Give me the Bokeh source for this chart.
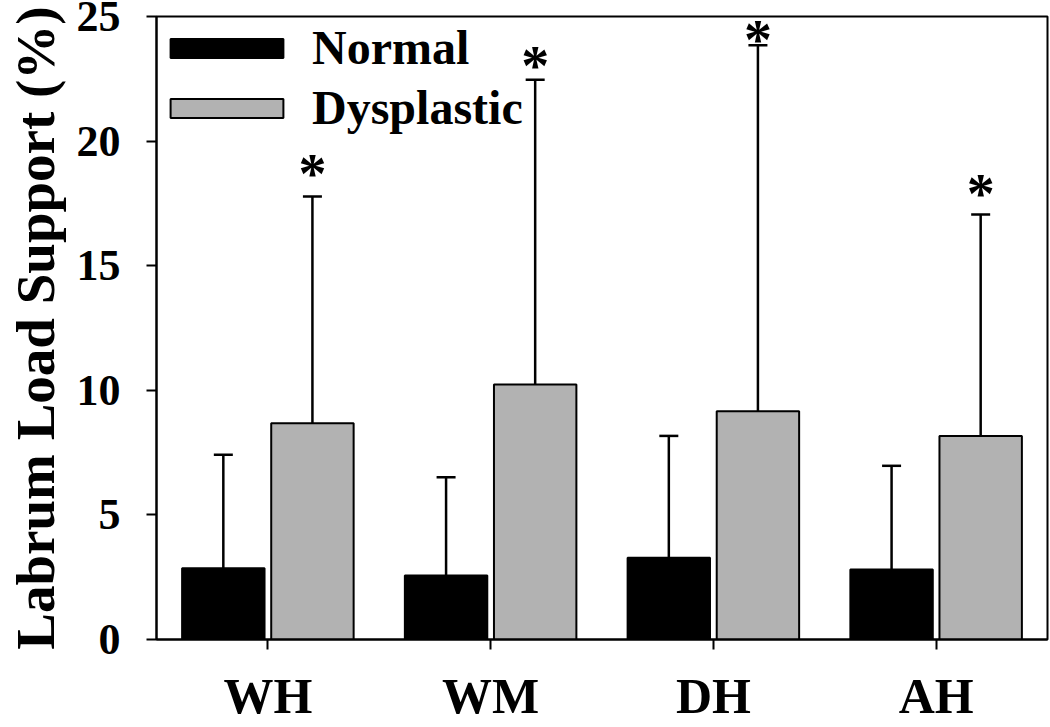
from bokeh.plotting import figure
from bokeh.models import ColumnDataSource, FactorRange, Range1d, Whisker, TeeHead, Legend, LegendItem, FixedTicker
from bokeh.transform import dodge
from bokeh.core.properties import value
from bokeh.embed import file_html
from bokeh.resources import INLINE

categories = ["WH", "WM", "DH", "AH"]
normal_mean = [2.86, 2.57, 3.28, 2.81]
normal_sd = [4.55, 3.94, 4.89, 4.16]
dysplastic_mean = [8.68, 10.23, 9.16, 8.17]
dysplastic_sd = [9.10, 12.23, 14.69, 8.88]
# significance markers (*) above the dysplastic bars, at the heights
significance_y = [18.58, 22.95, 23.96, 17.78]
y_ticks = [0, 5, 10, 15, 20, 25]

FONT = "Liberation Serif"
GRAY = "#b2b2b2"

src = ColumnDataSource(dict(
    cat=categories,
    n=normal_mean,
    n_top=[m + s for m, s in zip(normal_mean, normal_sd)],
    d=dysplastic_mean,
    d_top=[m + s for m, s in zip(dysplastic_mean, dysplastic_sd)],
    star=significance_y,
))

p = figure(x_range=FactorRange(*categories, range_padding=0), y_range=Range1d(0, 25),
           width=1050, height=727, output_backend="svg", toolbar_location=None,
           min_border_left=156, min_border_right=3, min_border_top=16, min_border_bottom=88)
p.x_range.range_padding = 0

r1 = p.vbar(x=dodge("cat", -0.2, range=p.x_range), top="n", width=0.37, source=src,
            fill_color="black", line_color="black", line_width=2)
r2 = p.vbar(x=dodge("cat", 0.2, range=p.x_range), top="d", width=0.37, source=src,
            fill_color=GRAY, line_color="black", line_width=2)

for base, lo, hi in [(-0.2, "n", "n_top"), (0.2, "d", "d_top")]:
    w = Whisker(source=src, base=dodge("cat", base, range=p.x_range), lower=lo, upper=hi,
                line_color="black", line_width=2.5, lower_head=None,
                upper_head=TeeHead(size=19, line_color="black", line_width=2.5), level="underlay")
    p.add_layout(w)

p.text(x=dodge("cat", 0.2, range=p.x_range), y="star", text=value("*"), source=src,
       text_font=value(FONT), text_font_style="bold", text_font_size="56px",
       text_align="center", text_baseline="alphabetic", y_offset=-2, text_color="black")

legend = Legend(items=[LegendItem(label="Normal", renderers=[r1]),
                       LegendItem(label="Dysplastic", renderers=[r2])],
                location=(0, 504), glyph_width=141, glyph_height=24,
                label_text_font=FONT, label_text_font_style="bold", label_text_font_size="48px",
                label_text_color="black",
                label_standoff=15, spacing=5, padding=0, margin=0,
                border_line_alpha=0, background_fill_alpha=0)
p.add_layout(legend)

p.xgrid.visible = False
p.ygrid.visible = False
p.outline_line_color = "black"
p.outline_line_width = 2
p.background_fill_color = "white"
p.border_fill_color = "white"

for ax in (p.xaxis[0], p.yaxis[0]):
    ax.axis_line_width = 2
    ax.axis_line_color = "black"
    ax.major_tick_line_width = 2
    ax.major_tick_line_color = "black"
    ax.major_tick_in = 0
    ax.major_tick_out = 10
    ax.minor_tick_line_color = None
    ax.major_label_text_font = FONT
    ax.major_label_text_font_style = "bold"
    ax.major_label_text_color = "black"

p.xaxis.major_label_text_font_size = "50px"
p.xaxis.major_label_text_line_height = 1.0
p.xaxis.major_label_standoff = 18
p.yaxis.ticker = FixedTicker(ticks=y_ticks)
p.yaxis.major_label_text_font_size = "44px"
p.yaxis.major_label_standoff = 26
p.yaxis.axis_label = "Labrum Load Support (%)"
p.yaxis.axis_label_text_font = FONT
p.yaxis.axis_label_text_font_style = "bold"
p.yaxis.axis_label_text_font_size = "55px"
p.yaxis.axis_label_text_line_height = 1.0
p.yaxis.axis_label_text_color = "black"
p.yaxis.axis_label_standoff = 8

open("out.html", "w").write(file_html(p, INLINE))
